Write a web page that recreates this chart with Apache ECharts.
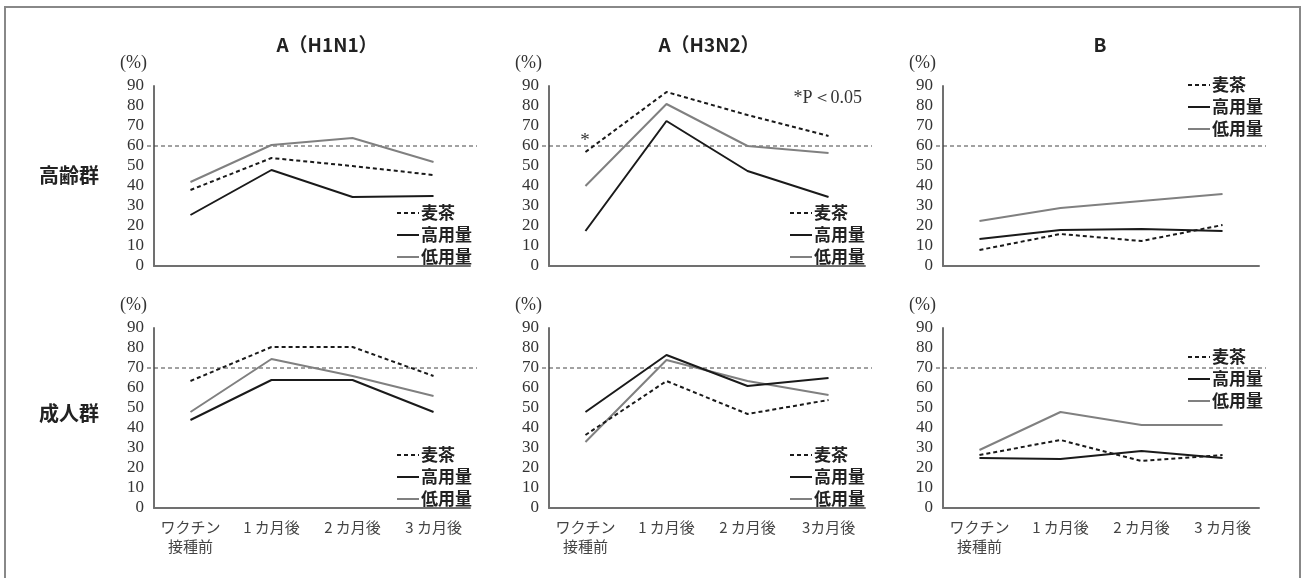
<!DOCTYPE html>
<html><head><meta charset="utf-8">
<script src="https://cdn.jsdelivr.net/npm/echarts@6/dist/echarts.min.js"></script>
<style>html,body{margin:0;padding:0;background:#fff}#c{width:1304px;height:578px}</style>
</head><body><div id="c"></div>
<script>
// ---- data ----
const seriesNames = ['麦茶', '高用量', '低用量'];
const panelTitles = ['A（H1N1）', 'A（H3N2）', 'B'];
const rowLabels = ['高齢群', '成人群'];
const xLabelsH1N1 = ['ワクチン\n接種前', '1 カ月後', '2 カ月後', '3 カ月後'];
const xLabelsH3N2 = ['ワクチン\n接種前', '1 カ月後', '2 カ月後', '3カ月後'];
const xLabelsB = ['ワクチン\n接種前', '1 カ月後', '2 カ月後', '3 カ月後'];
const thresholds = [60, 70]; // 高齢群, 成人群
const yMin = 0, yMax = 90, yStep = 10;

// 高齢群
const eldH1N1Mugicha = [38, 54, 50, 45.5];
const eldH1N1High = [25.5, 48, 34.5, 35];
const eldH1N1Low = [42, 60.5, 64, 52];
const eldH3N2Mugicha = [57, 87, 75.5, 65];
const eldH3N2High = [17.5, 72.5, 47.5, 34.5];
const eldH3N2Low = [40, 81, 60, 56.5];
const eldBMugicha = [8, 16, 12.5, 20.5];
const eldBHigh = [13.5, 18, 18.5, 17.5];
const eldBLow = [22.5, 29, 32.5, 36];
// 成人群
const adH1N1Mugicha = [63.5, 80.5, 80.5, 66];
const adH1N1High = [44, 64, 64, 48];
const adH1N1Low = [48, 74.5, 66, 56];
const adH3N2Mugicha = [36.5, 63.5, 47, 54];
const adH3N2High = [48, 76.5, 61, 65];
const adH3N2Low = [33, 74, 63.5, 56.5];
const adBMugicha = [26.5, 34, 23.5, 26.5];
const adBHigh = [25, 24.5, 28.5, 25];
const adBLow = [29, 48, 41.5, 41.5];

const panels = [
  [eldH1N1Mugicha, eldH1N1High, eldH1N1Low],
  [eldH3N2Mugicha, eldH3N2High, eldH3N2Low],
  [eldBMugicha, eldBHigh, eldBLow],
  [adH1N1Mugicha, adH1N1High, adH1N1Low],
  [adH3N2Mugicha, adH3N2High, adH3N2Low],
  [adBMugicha, adBHigh, adBLow]
];
const xLabelSets = [xLabelsH1N1, xLabelsH3N2, xLabelsB];

// ---- layout ----
const colLeft = [154, 549, 943];
const gridW = 316;
const rowTop = [86, 328];
const gridH = 180;
const legendPos = [
  [396, 204], [789, 204], [1187, 76],
  [396, 446], [789, 446], [1187, 348]
];
const serif = '"Liberation Serif", "Times New Roman", serif';
const sans = '"Noto Sans CJK JP", "Noto Sans", sans-serif';

const lineStyles = [
  { color: '#1a1a1a', width: 2, type: [4, 3] },
  { color: '#1a1a1a', width: 2, type: 'solid' },
  { color: '#808080', width: 2, type: 'solid' }
];

const grid = [], xAxis = [], yAxis = [], series = [], legend = [];
for (let p = 0; p < 6; p++) {
  const r = Math.floor(p / 3), c = p % 3;
  grid.push({ left: colLeft[c], top: rowTop[r], width: gridW, height: gridH, outerBoundsMode: 'none' });
  const labels = xLabelSets[c];
  xAxis.push({
    gridIndex: p, type: 'value', min: -0.45, max: 3.45,
    axisLine: { show: true, onZero: false, lineStyle: { color: '#707070', width: 2 } },
    axisTick: { show: false }, splitLine: { show: false },
    axisLabel: {
      show: r === 1, customValues: [0, 1, 2, 3],
      formatter: v => labels[Math.round(v)] || '',
      fontFamily: sans, fontSize: 15, color: '#444', lineHeight: 19, margin: 10
    }
  });
  yAxis.push({
    gridIndex: p, type: 'value', min: yMin, max: yMax, interval: yStep,
    name: '(%)', nameLocation: 'end', nameGap: 23,
    nameTextStyle: { fontFamily: serif, fontSize: 18, color: '#333', align: 'right', verticalAlign: 'middle', padding: [0, 7, 0, 0] },
    axisLine: { show: true, onZero: false, lineStyle: { color: '#707070', width: 2 } },
    axisTick: { show: false }, splitLine: { show: false },
    axisLabel: { fontFamily: serif, fontSize: 17, color: '#333', margin: 10 }
  });
  const order = [2, 1, 0];
  order.forEach(k => {
    series.push({
      type: 'line', name: seriesNames[k], xAxisIndex: p, yAxisIndex: p,
      data: panels[p][k].map((v, i) => [i, v]),
      symbol: 'none', lineStyle: lineStyles[k], itemStyle: { color: lineStyles[k].color },
      z: 3, silent: true, animation: false
    });
  });
  legend.push({
    orient: 'vertical', left: legendPos[p][0], top: legendPos[p][1],
    data: seriesNames, padding: 0, itemGap: 4, itemWidth: 22, itemHeight: 18,
    selectedMode: false,
    itemStyle: { opacity: 0 },
    textStyle: { fontFamily: sans, fontSize: 17, fontWeight: 'bold', color: '#222', lineHeight: 18, padding: [0, 0, 0, -3] }
  });
}
// threshold reference lines (slightly wider grids)
for (let p = 0; p < 6; p++) {
  const r = Math.floor(p / 3), c = p % 3;
  const gi = 6 + p;
  grid.push({ left: colLeft[c] - 7, top: rowTop[r], width: gridW + 14, height: gridH, outerBoundsMode: 'none' });
  xAxis.push({ gridIndex: gi, type: 'value', min: 0, max: 1, show: false });
  yAxis.push({ gridIndex: gi, type: 'value', min: yMin, max: yMax, show: false });
  series.push({
    type: 'line', name: '基準', xAxisIndex: gi, yAxisIndex: gi,
    data: [[0, thresholds[r]], [1, thresholds[r]]],
    symbol: 'none', lineStyle: { color: '#444', width: 1, type: [4, 3] },
    z: 1, silent: true, animation: false
  });
}

const graphic = [
  { type: 'rect', shape: { x: 5, y: 7, width: 1295, height: 640 }, style: { fill: 'none', stroke: '#888', lineWidth: 2 }, silent: true },
  { type: 'text', x: 327, y: 45, style: { text: panelTitles[0], fontFamily: sans, fontSize: 19, fontWeight: 'bold', fill: '#222', align: 'center', verticalAlign: 'middle' } },
  { type: 'text', x: 709, y: 45, style: { text: panelTitles[1], fontFamily: sans, fontSize: 19, fontWeight: 'bold', fill: '#222', align: 'center', verticalAlign: 'middle' } },
  { type: 'text', x: 1100, y: 45, style: { text: panelTitles[2], fontFamily: sans, fontSize: 19, fontWeight: 'bold', fill: '#222', align: 'center', verticalAlign: 'middle' } },
  { type: 'text', x: 69, y: 175, style: { text: rowLabels[0], fontFamily: sans, fontSize: 20, fontWeight: 'bold', fill: '#222', align: 'center', verticalAlign: 'middle' } },
  { type: 'text', x: 69, y: 413, style: { text: rowLabels[1], fontFamily: sans, fontSize: 20, fontWeight: 'bold', fill: '#222', align: 'center', verticalAlign: 'middle' } },
  { type: 'text', x: 585, y: 141, style: { text: '*', fontFamily: serif, fontSize: 19, fill: '#333', align: 'center', verticalAlign: 'middle' } },
  { type: 'text', x: 862, y: 98, style: { text: '*P＜0.05', fontFamily: serif, fontSize: 18, fill: '#333', align: 'right', verticalAlign: 'middle' } }
];

const chart = echarts.init(document.getElementById('c'), null, { renderer: 'canvas' });
chart.setOption({
  backgroundColor: '#fff',
  animation: false,
  grid, xAxis, yAxis, series, legend, graphic
});
</script>
</body></html>
